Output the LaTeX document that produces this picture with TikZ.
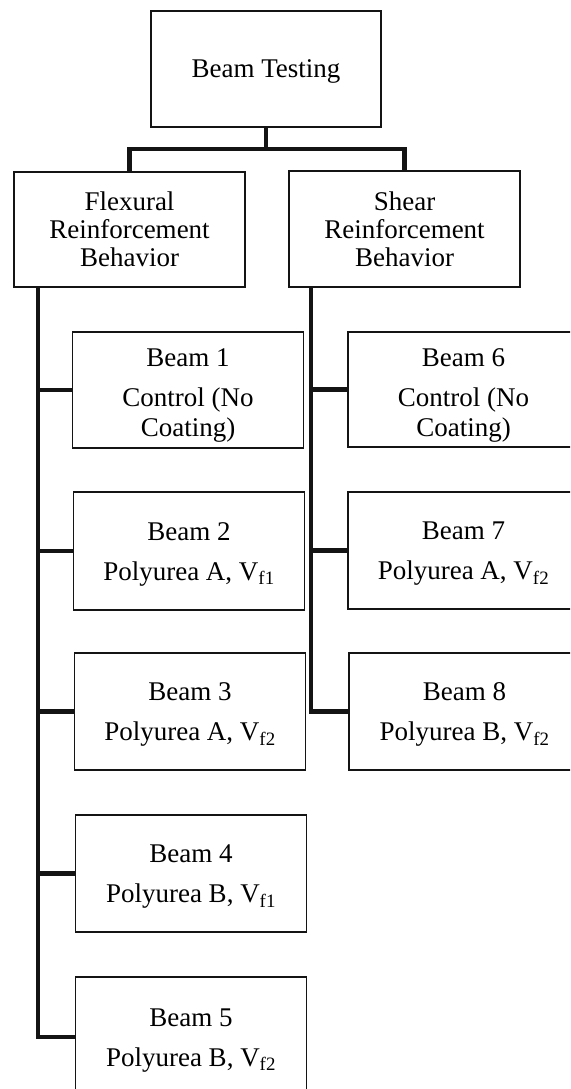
\documentclass[tikz,border=0pt]{standalone}
\usepackage{fontspec}
\setmainfont{Liberation Serif}

\definecolor{boxline}{RGB}{20,20,20}

\tikzset{
  beambox/.style={draw=boxline, line width=1.6pt, rectangle, inner sep=0pt,
    minimum width=231pt, minimum height=116pt, align=center,
    font=\fontsize{27}{30}\selectfont},
  headbox/.style={beambox, font=\fontsize{27}{28}\selectfont},
  link/.style={draw=boxline, line width=4.5pt}
}

\begin{document}
\begin{tikzpicture}[x=1pt, y=-1pt]
  \def\twostrut{\rule{0pt}{24pt}}
  \def\threestrut{\rule{0pt}{29pt}}
  \useasboundingbox (0,0) rectangle (570,1089);
  \clip (0,0) rectangle (570,1089);

  \node[headbox, minimum width=230pt, text depth=0pt] (top) at (266,69) {Beam Testing};
  \node[headbox, minimum height=115pt] (flex) at (129.5,229.5) {Flexural\\Reinforcement\\Behavior};
  \node[headbox] (shear) at (404.5,229) {Shear\\Reinforcement\\Behavior};

  \node[beambox] (b1) at (188,390) {\threestrut Beam 1\\[10pt]Control (No\\Coating)};
  \node[beambox, minimum height=118pt] (b2) at (189,551) {\twostrut Beam 2\\[10pt]Polyurea A, V\textsubscript{f1}};
  \node[beambox, minimum height=117pt] (b3) at (190,711.5) {\twostrut Beam 3\\[10pt]Polyurea A, V\textsubscript{f2}};
  \node[beambox, minimum height=117pt] (b4) at (191,873.5) {\twostrut Beam 4\\[10pt]Polyurea B, V\textsubscript{f1}};
  \node[beambox, minimum height=120pt] (b5) at (191,1037) {\twostrut Beam 5\\[10pt]Polyurea B, V\textsubscript{f2}};

  \node[beambox, minimum height=115pt] (b6) at (463.5,389.5) {\threestrut Beam 6\\[10pt]Control (No\\Coating)};
  \node[beambox, minimum height=117pt] (b7) at (463.5,550.5) {\twostrut Beam 7\\[10pt]Polyurea A, V\textsubscript{f2}};
  \node[beambox, minimum height=117pt] (b8) at (464.5,711.5) {\twostrut Beam 8\\[10pt]Polyurea B, V\textsubscript{f2}};

  \coordinate (split) at (top.south |- 0,149);
  \coordinate (ltrunk) at ([xshift=25pt]flex.south west);
  \coordinate (rtrunk) at ([xshift=23pt]shear.south west);

  \draw[link] (top.south) -- (split);
  \draw[link] (flex.north) |- (split) -| (shear.north);

  \draw[link] (ltrunk) |- (b5.west);
  \foreach \b in {b1,b2,b3,b4}
    \draw[link] (ltrunk |- \b.west) -- (\b.west);

  \draw[link] (rtrunk) |- (b8.west);
  \foreach \b in {b6,b7}
    \draw[link] (rtrunk |- \b.west) -- (\b.west);
\end{tikzpicture}
\end{document}
